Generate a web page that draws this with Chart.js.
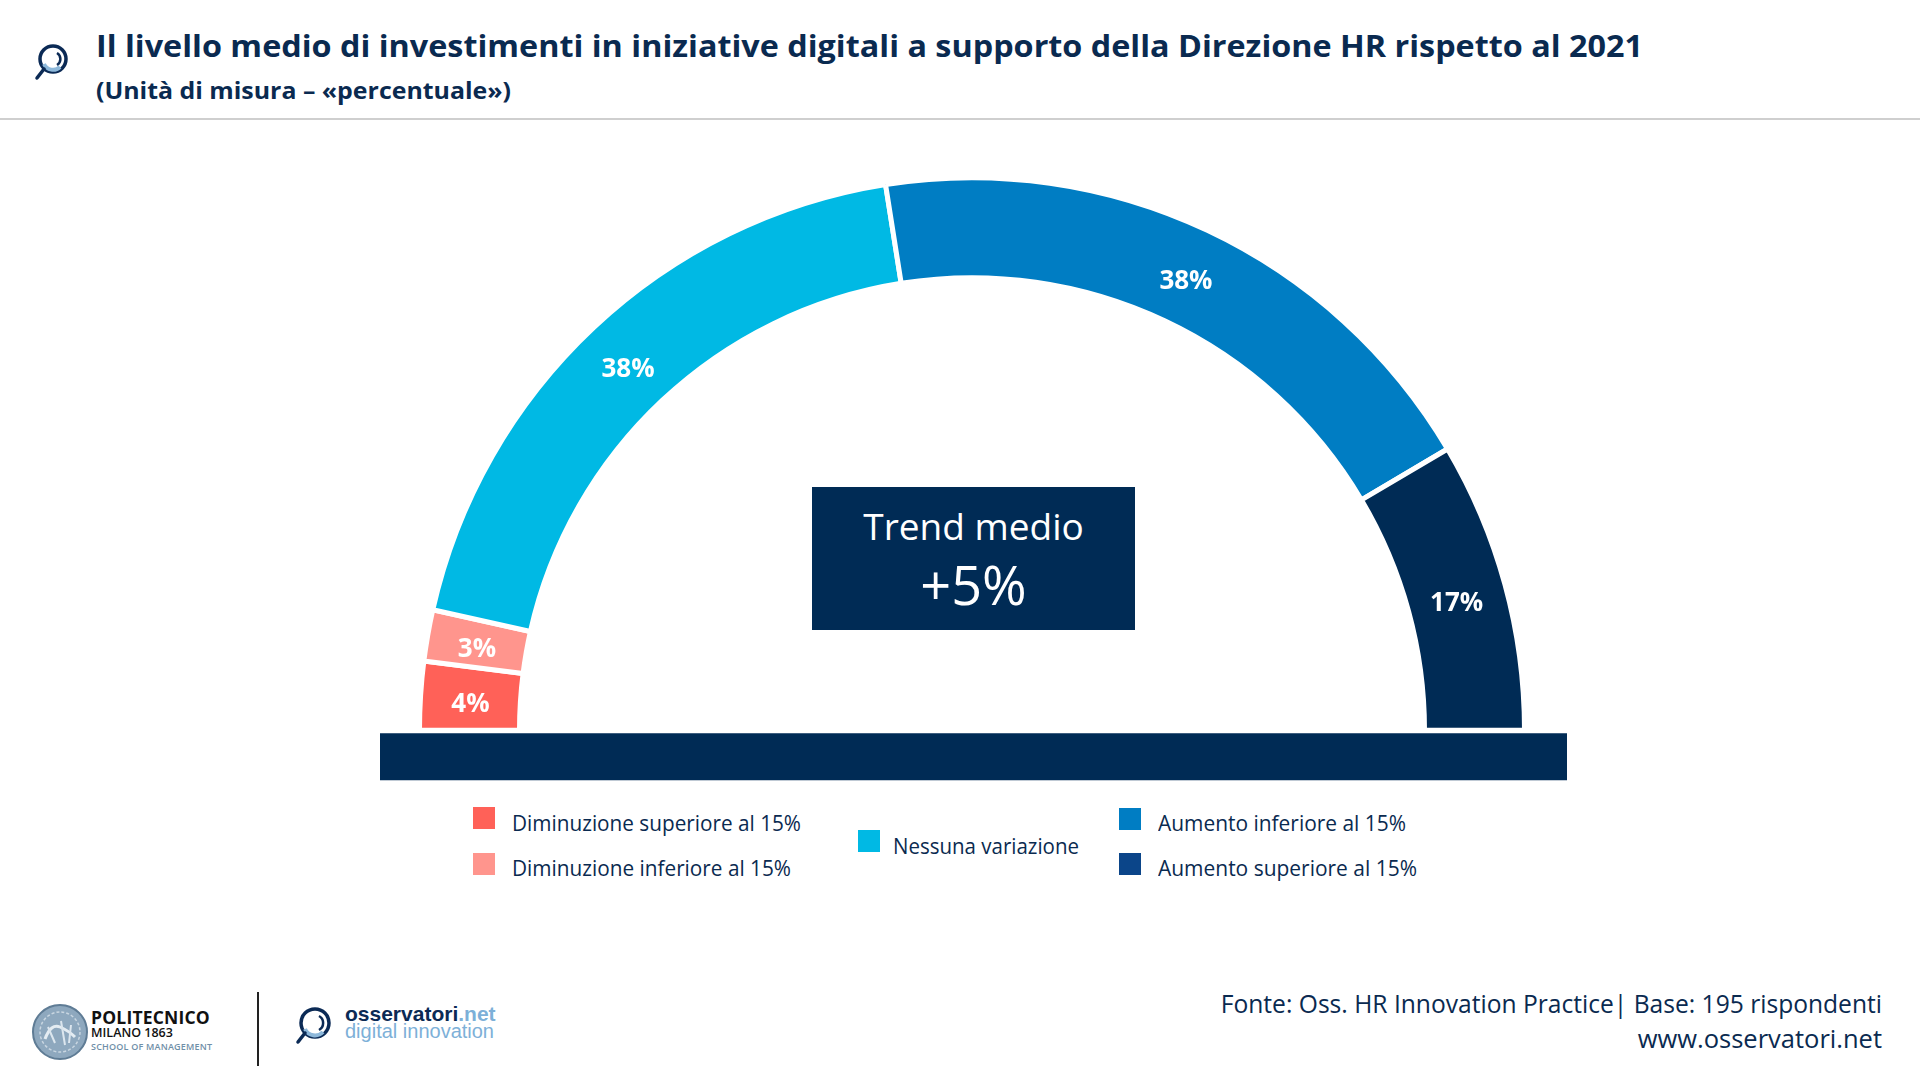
<!DOCTYPE html>
<html lang="it">
<head>
<meta charset="utf-8">
<title>Investimenti in iniziative digitali HR</title>
<script src="https://cdn.jsdelivr.net/npm/chart.js@4.4.1/dist/chart.umd.min.js"></script>
<style>
  html, body { margin: 0; padding: 0; background: #fff; }
  body { width: 1920px; height: 1080px; position: relative; overflow: hidden; font-family: "Open Sans", "Noto Sans", sans-serif; color: #0A2A50; }
  .abs { position: absolute; white-space: nowrap; }
  #title { left: 96px; top: 25px; font-size: 31px; font-weight: 700; line-height: 40px; transform-origin: 0 50%; }
  #subtitle { left: 96px; top: 76px; font-size: 22.5px; font-weight: 700; line-height: 30px; transform-origin: 0 50%; }
  #rule { left: 0; top: 118px; width: 1920px; height: 2px; background: #cfcfcf; }
  #chartBox { left: 370px; top: 114px; width: 1204px; height: 680px; }
  #trend { left: 812px; top: 487px; width: 323px; height: 143px; background: #002B55; color: #fff; text-align: center; }
  #trend .l1 { position: absolute; left: 0; right: 0; top: 15px; font-size: 37px; line-height: 48px; font-weight: 400; }
  #trend .l2 { position: absolute; left: 0; right: 0; top: 64px; font-size: 54px; line-height: 66px; font-weight: 400; }
  .lg-sw { position: absolute; width: 22px; height: 22px; }
  .lg-tx { position: absolute; font-size: 21px; line-height: 28px; white-space: nowrap; color: #0A2A50; transform-origin: 0 50%; }
  #source { right: 38px; top: 987px; font-size: 24.6px; line-height: 34px; text-align: right; color: #0A2A50; }
  #source .www { font-size: 25.5px; }
  .poli1 { font-family: "Open Sans", sans-serif; font-weight: 700; font-size: 17.5px; color: #111; letter-spacing: 0.2px; }
  .poli2 { font-family: "Open Sans", sans-serif; font-weight: 600; font-size: 12.5px; color: #111; }
  .poli3 { font-family: "Open Sans", sans-serif; font-weight: 600; font-size: 9px; color: #6F8FA8; letter-spacing: 0.2px; }
  .oss1 { font-family: "Liberation Sans", Arial, sans-serif; font-weight: 700; font-size: 21px; color: #0B2A55; }
  .oss2 { font-family: "Liberation Sans", Arial, sans-serif; font-weight: 400; font-size: 20px; color: #7DB0D8; }
</style>
</head>
<body>
<script>
// ---- data ----
const categories = [
  "Diminuzione superiore al 15%",
  "Diminuzione inferiore al 15%",
  "Nessuna variazione",
  "Aumento inferiore al 15%",
  "Aumento superiore al 15%"
];
const values = [4, 3, 38, 38, 17];
const arcColors = ["#FF6158", "#FF958D", "#00B9E4", "#007DC3", "#002B55"];
const legendColors = ["#FF6158", "#FF958D", "#00B9E4", "#007DC3", "#0B4589"];
const titleText = "Il livello medio di investimenti in iniziative digitali a supporto della Direzione HR rispetto al 2021";
const subtitleText = "(Unità di misura – «percentuale»)";
const trendLabel = "Trend medio";
const trendValue = "+5%";
const sourceLines = ["Fonte: Oss. HR Innovation Practice| Base: 195 rispondenti", "www.osservatori.net"];
</script>

<svg class="abs" style="left:30px;top:40px" width="46" height="46" viewBox="0 0 46 46">
  <circle cx="23" cy="19" r="13" fill="none" stroke="#0B2A55" stroke-width="3.5"/>
  <path d="M 14 24 A 10 10 0 0 0 30 27" fill="none" stroke="#8DB8DA" stroke-width="4"/>
  <path d="M 27 13 A 7 7 0 0 1 27 25" fill="none" stroke="#0B2A55" stroke-width="2.5"/>
  <line x1="14" y1="29" x2="7" y2="38" stroke="#0B2A55" stroke-width="3.5" stroke-linecap="round"/>
</svg>
<div id="title" class="abs"></div>
<div id="subtitle" class="abs"></div>
<div id="rule" class="abs"></div>

<div id="chartBox" class="abs"><canvas id="chart"></canvas></div>

<div id="trend" class="abs"><div class="l1"></div><div class="l2"></div></div>

<div id="legend"></div>

<div id="source" class="abs"></div>

<!-- footer logos -->
<svg class="abs" style="left:31px;top:1003px" width="58" height="58" viewBox="0 0 58 58">
  <circle cx="29" cy="29" r="27" fill="#8EA8BE" stroke="#5F7C95" stroke-width="2"/>
  <circle cx="29" cy="29" r="20" fill="none" stroke="#C9D6E1" stroke-width="1.5" stroke-dasharray="3 2"/>
  <path d="M 14 36 Q 20 20 29 24 T 44 34" fill="none" stroke="#E4ECF2" stroke-width="3"/>
  <path d="M 17 24 L 24 40 M 30 18 L 34 42 M 40 22 L 38 40" stroke="#DCE6EE" stroke-width="2"/>
</svg>
<div class="abs poli1" style="left:91px;top:1005px;line-height:24px">POLITECNICO</div>
<div class="abs poli2" style="left:91px;top:1024px;line-height:18px">MILANO 1863</div>
<div class="abs poli3" style="left:91px;top:1040px;line-height:14px">SCHOOL OF MANAGEMENT</div>
<div class="abs" style="left:257px;top:992px;width:2px;height:74px;background:#222"></div>
<svg class="abs" style="left:292px;top:1002px" width="46" height="46" viewBox="0 0 46 46">
  <circle cx="23" cy="21" r="14" fill="none" stroke="#0B2A55" stroke-width="3.5"/>
  <path d="M 13 27 A 11 11 0 0 0 31 30" fill="none" stroke="#8DB8DA" stroke-width="4"/>
  <path d="M 27 14 A 8 8 0 0 1 27 28" fill="none" stroke="#0B2A55" stroke-width="2.5"/>
  <line x1="13" y1="31" x2="6" y2="40" stroke="#0B2A55" stroke-width="3.5" stroke-linecap="round"/>
</svg>
<div class="abs oss1" style="left:345px;top:1003px;line-height:22px">osservatori<span style="color:#7DB0D8">.net</span></div>
<div class="abs oss2" style="left:345px;top:1020px;line-height:22px">digital innovation</div>

<script>
function fitWidth(el, target) {
  const w = el.getBoundingClientRect().width;
  if (w > 0) el.style.transform = "scaleX(" + (target / w) + ")";
}

document.getElementById("title").textContent = titleText;
document.getElementById("subtitle").textContent = subtitleText;
fitWidth(document.getElementById("title"), 1547);
fitWidth(document.getElementById("subtitle"), 415);

document.querySelector("#trend .l1").textContent = trendLabel;
document.querySelector("#trend .l2").textContent = trendValue;

const src = document.getElementById("source");
src.innerHTML = sourceLines.map((s, i) => "<div" + (i === 1 ? " class=\"www\"" : "") + ">" + s.replace(/&/g, "&amp;") + "</div>").join("");

// legend layout (swatch positions) in page pixels
const legendLayout = [
  { x: 473, y: 807, tx: 512, tw: 289, dy: 2 },
  { x: 473, y: 853, tx: 512, tw: 279, dy: 1 },
  { x: 858, y: 830, tx: 893, tw: 186, dy: 2 },
  { x: 1119, y: 808, tx: 1158, tw: 248, dy: 1 },
  { x: 1119, y: 853, tx: 1158, tw: 259, dy: 1 }
];
const legend = document.getElementById("legend");
categories.forEach((c, i) => {
  const L = legendLayout[i];
  const sw = document.createElement("div");
  sw.className = "lg-sw";
  sw.style.left = L.x + "px"; sw.style.top = L.y + "px";
  sw.style.background = legendColors[i];
  legend.appendChild(sw);
  const tx = document.createElement("div");
  tx.className = "lg-tx";
  tx.textContent = c;
  tx.style.left = L.tx + "px"; tx.style.top = (L.y + L.dy) + "px";
  legend.appendChild(tx);
  fitWidth(tx, L.tw);
});

// plugins
const basePlugin = {
  id: "baseBar",
  afterDatasetsDraw(chart) {
    const arc = chart.getDatasetMeta(0).data[0];
    if (!arc) return;
    const ctx = chart.ctx;
    ctx.save();
    ctx.fillStyle = "#002B55";
    ctx.fillRect(arc.x - 592, arc.y + 3, 1187, 47);
    ctx.restore();
  }
};
const labelPlugin = {
  id: "arcLabels",
  afterDatasetsDraw(chart) {
    const meta = chart.getDatasetMeta(0);
    const ctx = chart.ctx;
    ctx.save();
    ctx.fillStyle = "#ffffff";
    ctx.font = "700 26px 'Open Sans', sans-serif";
    ctx.textAlign = "center";
    ctx.textBaseline = "middle";
    meta.data.forEach((arc, i) => {
      const p = arc.tooltipPosition();
      ctx.fillText(values[i] + "%", p.x, p.y + 6);
    });
    ctx.restore();
  }
};

new Chart(document.getElementById("chart"), {
  type: "doughnut",
  data: {
    labels: categories,
    datasets: [{
      data: values,
      backgroundColor: arcColors,
      borderColor: "#ffffff",
      borderWidth: 5,
      radius: 552.5,
      hoverOffset: 0
    }]
  },
  options: {
    responsive: true,
    maintainAspectRatio: false,
    animation: false,
    rotation: -90,
    circumference: 180,
    cutout: "81.9%",
    layout: { padding: 0 },
    events: [],
    plugins: {
      legend: { display: false },
      tooltip: { enabled: false }
    }
  },
  plugins: [basePlugin, labelPlugin]
});
</script>
</body>
</html>
